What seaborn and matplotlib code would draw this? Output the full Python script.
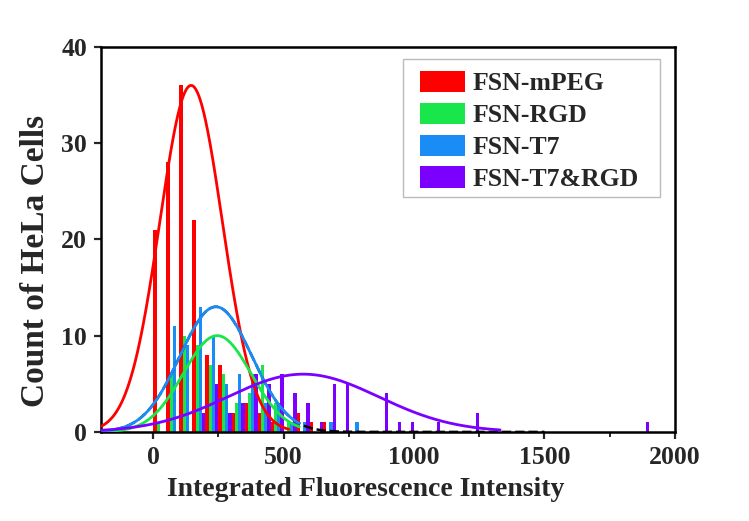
import numpy as np
import pandas as pd
import matplotlib
matplotlib.use('Agg')
import matplotlib.pyplot as plt
from matplotlib.patches import Patch, Rectangle
from matplotlib.ticker import MultipleLocator
import seaborn as sns

sns.set_style('ticks')
plt.rcParams['font.family'] = ['Liberation Serif', 'DejaVu Serif']
plt.rcParams['font.weight'] = 'bold'
plt.rcParams['axes.labelweight'] = 'bold'

# histogram bins (left edges, width 50)
bin_width = 50
bin_starts = list(range(0, 1900, 50))

samples = ['FSN-mPEG', 'FSN-RGD', 'FSN-T7', 'FSN-T7&RGD']
colors = ['#FF0000', '#19E64A', '#1A8CF5', '#7B00FF']

mpeg_counts = {0: 21, 50: 28, 100: 36, 150: 22, 200: 8, 250: 7, 300: 2, 350: 3,
               400: 2, 450: 1, 550: 2, 600: 1, 650: 1}
rgd_counts = {0: 1, 50: 6, 100: 10, 150: 9, 200: 7, 250: 6, 300: 3, 350: 4,
              400: 7, 450: 3, 500: 1}
t7_counts = {50: 11, 100: 9, 150: 13, 200: 10, 250: 5, 300: 6, 350: 6, 400: 3,
             450: 3, 500: 1, 550: 1, 650: 1, 750: 1}
t7rgd_counts = {150: 2, 200: 5, 250: 2, 300: 3, 350: 6, 400: 5, 450: 6, 500: 4,
                550: 3, 600: 1, 650: 5, 700: 5, 850: 4, 900: 1, 950: 1, 1050: 1,
                1200: 2, 1850: 1}

# gaussian fits: amplitude, centre, sigma, drawn range
fit_amp = [36, 10, 13, 6]
fit_mu = [145, 245, 240, 575]
fit_sigma = [120, 130, 138, 290]
fit_end = [520, 560, 560, 1330]

rows = []
for name, counts in zip(samples, [mpeg_counts, rgd_counts, t7_counts, t7rgd_counts]):
    for b in bin_starts:
        rows.append({'sample': name, 'x': b + bin_width / 2, 'count': counts.get(b, 0)})
df = pd.DataFrame(rows)

fig = plt.figure(figsize=(7.49, 5.21), dpi=100)
ax = fig.add_axes([0.135, 0.171, 0.766, 0.739])

sns.histplot(data=df, x='x', weights='count', hue='sample', hue_order=samples,
             palette=colors, binwidth=bin_width, binrange=(0, 1900), multiple='dodge',
             shrink=1.0, alpha=1, linewidth=0, legend=False, ax=ax)

# black dashed fit underneath
xx = np.linspace(-200, 1500, 600)
ax.plot(xx, fit_amp[2] * np.exp(-(xx - fit_mu[2]) ** 2 / (2 * fit_sigma[2] ** 2)),
        color='black', ls='--', lw=1.8, zorder=2)
for a, mu, s, end, c in zip(fit_amp, fit_mu, fit_sigma, fit_end, colors):
    xs = np.linspace(-200, end, 400)
    ax.plot(xs, a * np.exp(-(xs - mu) ** 2 / (2 * s ** 2)), color=c, lw=2, zorder=3)

ax.set_xlim(-200, 2000)
ax.set_ylim(0, 40)
ax.xaxis.set_major_locator(MultipleLocator(500))
ax.xaxis.set_minor_locator(MultipleLocator(250))
ax.yaxis.set_major_locator(MultipleLocator(10))
ax.tick_params(axis='both', which='major', direction='out', length=5, width=1.6,
               labelsize=18.5, pad=5)
ax.tick_params(axis='x', which='minor', direction='out', length=3.5, width=1.4)
for lab in ax.get_xticklabels() + ax.get_yticklabels():
    lab.set_fontweight('bold')
for sp in ax.spines.values():
    sp.set_visible(True)
    sp.set_linewidth(1.8)
    sp.set_color('black')

ax.set_xlabel('Integrated Fluorescence Intensity', fontsize=20, fontweight='bold')
ax.xaxis.set_label_coords(0.461, -0.117)
ax.set_ylabel('Count of HeLa Cells', fontsize=24, fontweight='bold')
ax.yaxis.set_label_coords(-0.087, 0.443)

# legend frame drawn separately so the padding can match the reference
ax.add_patch(Rectangle((0.526, 0.610), 0.448, 0.359, transform=ax.transAxes,
                       facecolor='white', edgecolor='#bbbbbb', lw=1.0, zorder=5))
handles = [Patch(facecolor=c, edgecolor='none', label=n) for n, c in zip(samples, colors)]
leg = ax.legend(handles=handles, loc='upper left', bbox_to_anchor=(0.556, 0.938),
                borderaxespad=0, borderpad=0, handlelength=1.75, handleheight=0.92,
                labelspacing=0.28, handletextpad=0.3, frameon=False,
                prop={'weight': 'bold', 'size': 18.5})
leg.set_zorder(6)

fig.savefig('out.png', dpi=100)
